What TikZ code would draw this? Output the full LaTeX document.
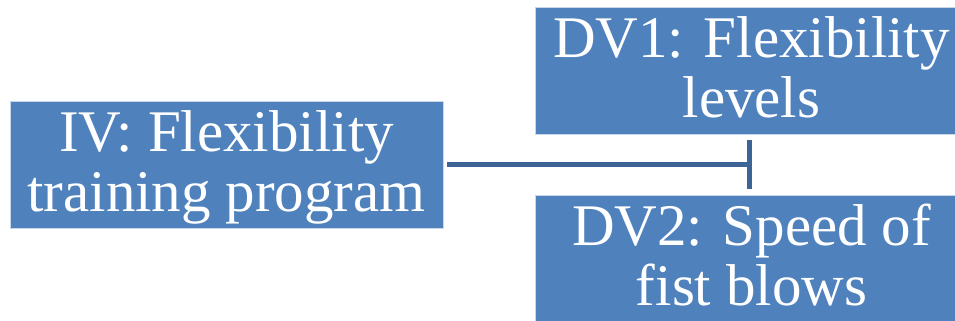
\documentclass[tikz,border=0pt]{standalone}
\usepackage{fontspec}
\setmainfont{Liberation Serif}
\usetikzlibrary{arrows.meta}
\definecolor{boxblue}{HTML}{4F81BD}
\definecolor{lineblue}{HTML}{3C6496}
\definecolor{boxedge}{HTML}{C9D7EA}
\newcommand\lstrut{\rule[-13bp]{0pt}{60bp}}
\begin{document}
\begin{tikzpicture}[x=1bp,y=-1bp,
  vbox/.style={rectangle, fill=boxblue, draw=boxedge, line width=0.8bp, inner sep=0pt,
    minimum width=433bp, minimum height=127bp, text=white, align=center,
    font=\fontsize{59bp}{60bp}\selectfont},
  conn/.style={draw=lineblue, line width=4.5bp, shorten <=4bp, -{Bar[width=49bp]}}]
\useasboundingbox (0,0) rectangle (955,320);
\node[vbox] (IV) at (226.5,164.5) {\lstrut IV: Flexibility\\\lstrut training program};
\node[vbox] (DV1) at (751.5,70.5) {\lstrut DV1: Flexibility\\\lstrut levels};
\node[vbox] (DV2) at (751.5,258.5) {\lstrut DV2: Speed of\\\lstrut fist blows};
\draw[conn] (IV.east) -- (DV1.south |- IV.east);
\end{tikzpicture}
\end{document}
